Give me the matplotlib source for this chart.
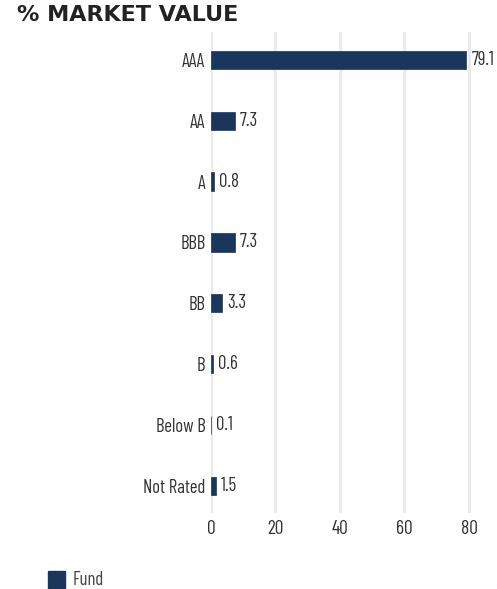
import matplotlib
matplotlib.use("Agg")
import matplotlib.pyplot as plt
from matplotlib.patches import Rectangle

# ── Data ──────────────────────────────────────────────────────────────────────
ratings = ["AAA", "AA", "A", "BBB", "BB", "B", "Below B", "Not Rated"]
fund    = [79.1, 7.3, 0.8, 7.3, 3.3, 0.6, 0.1, 1.5]
xticks  = [0, 20, 40, 60, 80]

# ── Palette / fonts ───────────────────────────────────────────────────────────
NAVY = "#1B365D"; GRID = "#EBEBEB"; TEXT = "#333333"; TITLE = "#222222"
NF = dict(family="Barlow Condensed", fontweight="normal")

fig = plt.figure(figsize=(4.97, 5.89), dpi=100, facecolor="white")
ax = fig.add_axes([0.4245, 0.129, 0.571, 0.8167])

y = list(range(len(ratings)))
ax.barh(y, fund, height=0.3, color=NAVY, edgecolor=NAVY, linewidth=0.5, zorder=3)

for yi, v in zip(y, fund):
    ax.text(v + 1.6, yi, f"{v:.1f}", va="center", ha="left",
            fontsize=13.5, color=TEXT, **NF)

ax.set_xlim(0, 88)
ax.set_ylim(7.45, -0.46)
ax.set_yticks(y)
ax.set_yticklabels(ratings, fontsize=13.5, color=TEXT, **NF)
ax.set_xticks(xticks)
ax.set_xticklabels([str(t) for t in xticks], fontsize=14, color=TEXT, **NF)
ax.tick_params(length=0, pad=4)
ax.tick_params(axis="x", pad=5)
for sp in ax.spines.values():
    sp.set_visible(False)
ax.xaxis.grid(True, color=GRID, linewidth=2.4, zorder=0)
ax.set_axisbelow(True)

fig.text(0.034, 0.957, "% MARKET VALUE", fontsize=16, fontweight="bold",
         color=TITLE, family="DejaVu Sans", ha="left", va="bottom")

# legend
fig.patches.append(Rectangle((48 / 497, 1 - 588 / 589), 17 / 497, 17 / 589,
                             transform=fig.transFigure, color=NAVY))
fig.text(73 / 497, 1 - 580 / 589, "Fund", fontsize=13.5, color="#444444",
         va="center", ha="left", **NF)

fig.savefig("out.png", dpi=100, facecolor="white")
